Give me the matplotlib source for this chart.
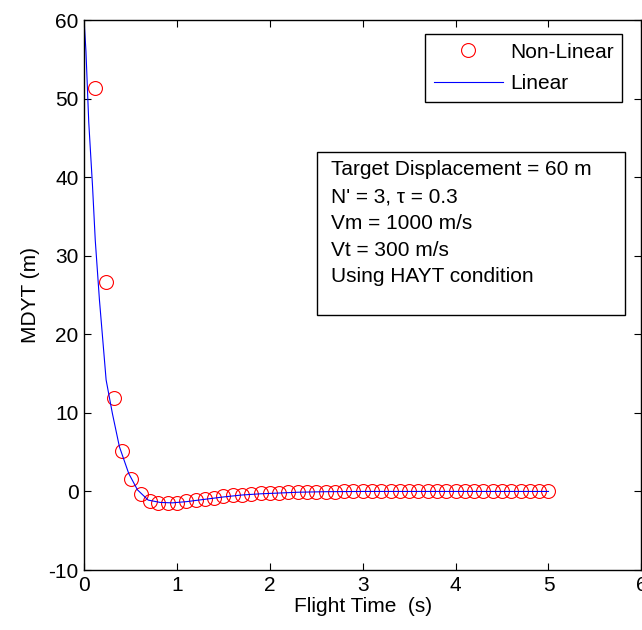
import numpy as np
import matplotlib
matplotlib.use('Agg')
import matplotlib.pyplot as plt
from matplotlib.patches import Rectangle

plt.rcParams['font.family'] = ['Liberation Sans', 'DejaVu Sans']
plt.rcParams['axes.unicode_minus'] = False

# Non-linear simulation (markers)
t_nonlin = [0.12, 0.24, 0.32, 0.41, 0.50, 0.61, 0.71, 0.80, 0.90, 1.00,
            1.10, 1.20, 1.30, 1.40, 1.50, 1.60, 1.70, 1.80, 1.90, 2.00,
            2.10, 2.20, 2.30, 2.40, 2.50, 2.60, 2.70, 2.80, 2.90, 3.00,
            3.10, 3.20, 3.30, 3.40, 3.50, 3.60, 3.70, 3.80, 3.90, 4.00,
            4.10, 4.20, 4.30, 4.40, 4.50, 4.60, 4.70, 4.80, 4.90, 5.00]
y_nonlin = [51.4, 26.6, 11.9, 5.1, 1.6, -0.3, -1.2, -1.5, -1.5, -1.45,
            -1.25, -1.1, -1.0, -0.8, -0.6, -0.45, -0.4, -0.3, -0.25, -0.2,
            -0.15, -0.12, -0.08, -0.05, -0.03, -0.02, -0.01, 0.0, 0.0, 0.0,
            0.0, 0.0, 0.0, 0.0, 0.0, 0.0, 0.0, 0.0, 0.0, 0.0,
            0.0, 0.0, 0.0, 0.0, 0.0, 0.0, 0.0, 0.0, 0.0, 0.0]

# Linear model (line)
t_lin = [0, 0.02, 0.05, 0.09, 0.12, 0.165, 0.237, 0.305, 0.38, 0.48, 0.575,
         0.69, 0.82, 0.95, 1.1, 1.3, 1.5, 1.7, 1.9, 2.1, 2.3, 2.6, 3.0, 4.0, 5.0]
y_lin = [60, 56, 47, 39, 32, 24.4, 14.2, 9.9, 5.7, 2.3, 0.2,
         -1.1, -1.4, -1.45, -1.3, -1.0, -0.7, -0.45, -0.3, -0.2, -0.1, -0.03, 0, 0, 0]

info = ["Target Displacement = 60 m",
        "N' = 3, \u03c4 = 0.3",
        "Vm = 1000 m/s",
        "Vt = 300 m/s",
        "Using HAYT condition"]

fig = plt.figure(figsize=(6.42, 6.30), dpi=100)
ax = fig.add_axes([0.131, 0.0952, 0.868, 0.873])

ax.plot(t_nonlin, y_nonlin, 'o', mfc='none', mec='red', ms=10, mew=0.8,
        label='Non-Linear')
ax.plot(t_lin, y_lin, '-', color='blue', lw=0.8, label='Linear')

ax.set_xlim(0, 6)
ax.set_ylim(-10, 60)
ax.set_xticks(range(0, 7))
ax.set_yticks(range(-10, 70, 10))
ax.tick_params(direction='in', top=True, right=True, length=5, labelsize=15,
               pad=4)
for s in ax.spines.values():
    s.set_linewidth(1.0)

ax.set_xlabel('Flight Time  (s)', fontsize=15, labelpad=2)
ax.set_ylabel('MDYT (m)', fontsize=15, labelpad=6)

leg = ax.legend(loc='upper right', bbox_to_anchor=(0.966, 0.975),
                borderaxespad=0, fancybox=False, edgecolor='black',
                fontsize=15, handlelength=3.3, framealpha=1,
                borderpad=0.42, labelspacing=0.62, handletextpad=0.35)
leg.get_frame().set_linewidth(1.0)

# annotation box
ax.add_patch(Rectangle((0.418, 0.4636), 0.553, 0.2964, transform=ax.transAxes,
                       fill=False, edgecolor='black', lw=1.0))
ax.text(0.443, 0.745, '\n'.join(info), transform=ax.transAxes, fontsize=15,
        va='top', ha='left', linespacing=1.52)

fig.savefig('out.png', dpi=100)
